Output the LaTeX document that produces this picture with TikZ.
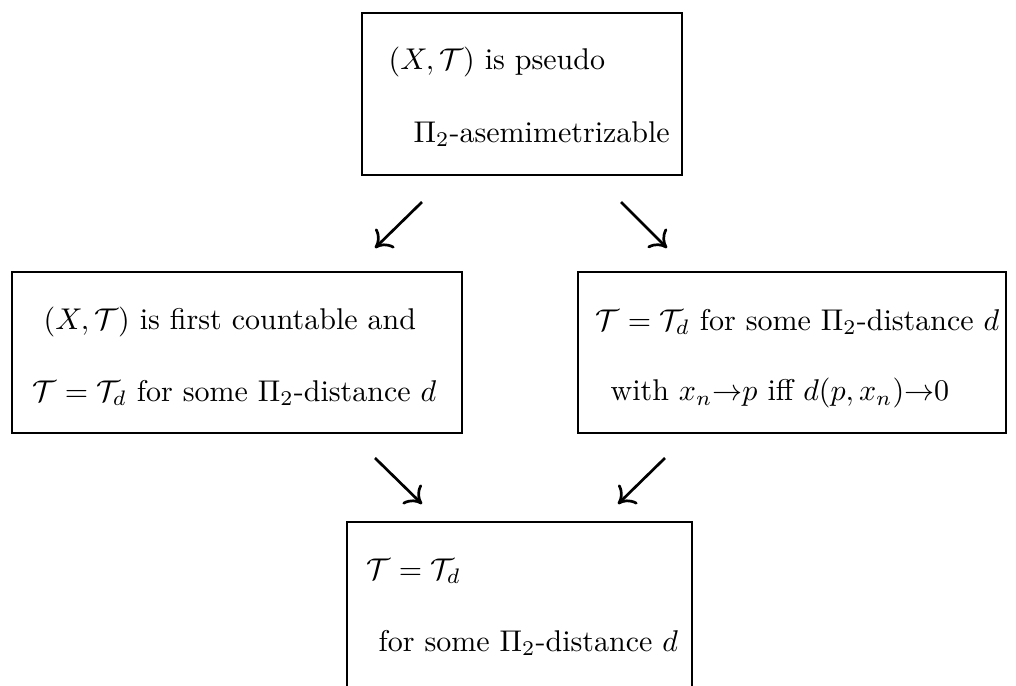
\documentclass[tikz,border=0pt]{standalone}
\usetikzlibrary{arrows.meta}
\begin{document}
\begin{tikzpicture}[x=0.3333pt,y=-0.3333pt,
  box/.style={draw, line width=0.5pt, inner sep=0pt, outer sep=0pt},
  txt/.style={anchor=west, inner sep=0pt},
  imp/.style={line width=0.9pt, -{Computer Modern Rightarrow[length=5pt,width=9pt]}}]
\useasboundingbox (0,0) rectangle (1016,686);
\clip (0,0) rectangle (1016,686);
% boxes
\node[box, minimum width=106.67pt, minimum height=54pt] (top) at (522,94) {};
\node[box, minimum width=150pt, minimum height=53.67pt] (left) at (237,352.5) {};
\node[box, minimum width=142.67pt, minimum height=53.67pt] (right) at (792,352.5) {};
\node[box, minimum width=115pt, minimum height=79.33pt] (bot) at (519.5,641) {};
% texts
\node[txt] (t1) at (388,62) {$(X,\mathcal{T})$ is pseudo};
\node[txt] (t2) at (413,134) {$\Pi_2$-asemimetrizable};
\node[txt] (l1) at (43,322) {$(X,\mathcal{T})$ is first countable and};
\node[txt] (l2) at (32,393) {$\mathcal{T}=\mathcal{T}_d$ for some $\Pi_2$-distance $d$};
\node[txt] (r1) at (595,322) {$\mathcal{T}=\mathcal{T}_d$ for some $\Pi_2$-distance $d$};
\node[txt] (r2) at (610,393) {with $x_n{\to}p$ iff $d(p,x_n){\to}0$};
\node[txt] (b1) at (366,571) {$\mathcal{T}=\mathcal{T}_d$};
\node[txt] (b2) at (378,643) {for some $\Pi_2$-distance $d$};
% arrows
\coordinate (u1s) at (422,202); \coordinate (u1e) at (375,248);
\coordinate (u2s) at (621,202); \coordinate (u2e) at (667,248);
\coordinate (d1s) at (375,458); \coordinate (d1e) at (422,504);
\coordinate (d2s) at (665,458); \coordinate (d2e) at (618,504);
\draw[imp] (u1s) -- (u1e);
\draw[imp] (u2s) -- (u2e);
\draw[imp] (d1s) -- (d1e);
\draw[imp] (d2s) -- (d2e);
\end{tikzpicture}
\end{document}
